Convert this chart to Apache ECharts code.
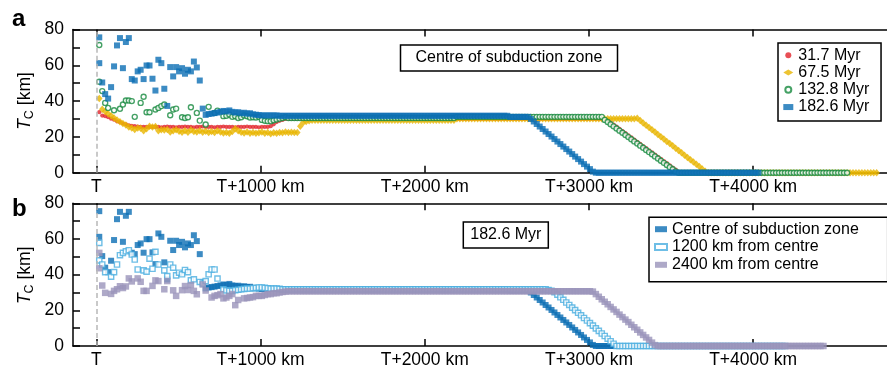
<!DOCTYPE html>
<html><head><meta charset="utf-8">
<script src="https://cdn.jsdelivr.net/npm/echarts@6/dist/echarts.min.js"></script>
<style>html,body{margin:0;padding:0;background:#fff}#c{width:887px;height:369px}</style>
</head><body><div id="c"></div>
<script>
const FONT = "'Liberation Sans', Arial, Helvetica, sans-serif";
const xTickValues = [0, 1000, 2000, 3000, 4000];
const xTickLabels = ['T', 'T+1000 km', 'T+2000 km', 'T+3000 km', 'T+4000 km'];
const yTickValues = [0, 20, 40, 60, 80];
const yMinorTickValues = [0, 10, 20, 30, 40, 50, 60, 70, 80];
// samples along the trench: first sample at 18 km, then every 18 km
const sampleStartKm = 18;
const sampleStepKm = 18;

const panelATitle = 'Centre of subduction zone';
const panelBTitle = '182.6 Myr';
const panelANames = ['31.7 Myr', '67.5 Myr', '132.8 Myr', '182.6 Myr'];
const panelBNames = ['Centre of subduction zone', '1200 km from centre', '2400 km from centre'];

// T_C (km) per sample; an inner pair = two samples at the same position; null = no visible sample
const tc317 = [
33.8,31.9,31.6,31.0,30.2,29.6,28.7,28.2,27.5,27.0,
26.5,26.2,26.0,25.8,25.6,25.6,25.6,25.6,25.6,25.6,
25.6,25.4,25.6,25.8,25.6,25.6,25.4,25.6,25.6,25.8,
25.6,25.6,25.4,25.6,25.6,25.8,25.6,25.6,25.6,25.4,
25.6,25.6,25.8,25.6,25.6,25.6,25.4,25.6,25.6,25.6,
25.8,25.6,25.6,25.6,25.4,25.6,25.6,25.6,26.0,27.0,
28.3,29.0,29.5,30.0,30.0,30.0,30.0,30.0,30.0,30.0,
30.0,30.0,30.0,30.0,30.0,30.0,30.0,30.0,30.0,30.0,
30.0,30.0,30.0,30.0,30.0,30.0,30.0,30.0,30.0,30.0,
30.0,30.0,30.0,30.0,30.0,30.0,30.0,30.0,30.0,30.0,
30.0,30.0,30.0,30.0,30.0,30.0,30.0,30.0,30.0,30.0,
30.0,30.0,30.0,30.0,30.0,30.0,30.0,30.0,30.0,30.0,
30.0,30.0,30.0,30.0,30.0,30.0,30.0,30.0,30.0,30.0,
30.0,30.0,30.0,30.0,30.0,30.0,30.0,30.0,30.0,30.0,
30.0,30.0,30.0,30.0,30.0,30.0,30.0,30.0,30.0,30.0,
30.0,30.0,30.0,30.0,30.0,30.0,30.0,30.0,30.0,30.0,
30.0,30.0,30.0,30.0,30.0,30.0,30.0,30.0,30.0,30.0,
30.0,30.0,29.3,28.1,26.9,25.7,24.5,23.3,22.1,20.9,
19.7,18.5,17.3,16.1,14.9,13.7,12.5,11.3,10.1,8.9,
7.7,6.5,5.3,4.1,2.9,1.7,0.5,0,0,0,
0,0,0,0,0,0,0,0,0,0,
0,0,0,0,0,0,0,0,0,0,
0,0,0,0,0,0,0,0,0,0,
0,0,0,0,0,0,0,0,0,0,
0,0,0,0,0,0,0,0,0,0,
0,0,0,0
];
const tc675 = [
41.5,35.5,34.2,33.0,31.8,30.5,29.5,28.4,27.5,26.6,
25.5,25.0,24.2,25.0,24.8,23.5,24.5,26.0,25.5,25.8,
23.5,24.0,23.8,24.2,22.8,23.5,24.0,23.2,22.6,23.5,
22.6,23.8,23.0,22.8,23.5,22.6,23.2,22.4,23.0,22.5,
23.5,22.8,22.2,22.5,22.0,23.0,24.5,23.5,22.6,22.2,
22.8,22.0,22.5,22.0,22.3,22.8,22.0,22.4,21.8,22.3,
22.0,22.5,22.3,22.8,22.4,22.6,22.4,22.4,26.0,28.0,
28.6,29.0,29.3,29.3,29.3,29.3,29.3,29.3,29.3,29.3,
29.3,29.3,29.3,29.3,29.3,29.3,29.3,29.3,29.3,29.3,
29.3,29.3,29.3,29.3,29.3,29.3,29.3,29.3,29.3,29.3,
29.3,29.3,29.3,29.3,29.3,29.3,29.3,29.3,29.3,29.3,
29.3,29.3,29.3,29.3,29.3,29.3,29.3,29.3,29.3,29.3,
29.3,30.2,30.2,30.2,30.2,30.2,30.2,30.2,30.2,30.2,
30.2,30.2,30.2,30.2,30.2,30.2,30.2,30.2,30.2,30.2,
30.2,30.2,30.2,30.2,30.2,30.2,30.2,30.2,30.2,30.2,
30.2,30.2,30.2,30.2,30.2,30.2,30.2,30.2,30.2,30.2,
30.2,30.2,30.2,30.2,30.2,30.2,30.2,30.2,30.2,30.2,
30.2,30.2,30.2,30.2,30.2,30.2,30.2,30.2,30.2,30.2,
30.2,30.2,30.4,29.1,27.8,26.5,25.3,24.0,22.7,21.4,
20.1,18.8,17.5,16.3,15.0,13.7,12.4,11.1,9.8,8.5,
7.3,6.0,4.7,3.4,2.1,0.8,0,0,0,0,
0,0,0,0,0,0,0,0,0,0,
0,0,0,0,0,0,0,0,0,0,
0,0,0,0,0,0,0,0,0,0,
0,0,0,0,0,0,0,0,0,0,
0,0,0,0,0,0,0,0,0,0,
0,0,0,0
];
const tc1328 = [
[71.3,50.8],45.6,39.0,36.2,null,34.9,null,35.7,38.1,40.3,
40.3,40.0,31.2,null,39.0,42.4,33.8,33.8,null,35.3,
36.2,37.2,38.1,null,32.1,35.3,35.8,null,31.0,30.6,
31.0,36.6,null,33.4,29.1,null,26.9,36.8,null,33.4,
34.7,null,31.6,31.8,32.5,31.2,31.5,30.6,31.0,32.0,
31.5,30.8,31.0,30.8,31.2,29.5,29.0,28.8,28.8,29.3,
29.7,30.2,30.6,31.0,30.6,30.6,30.6,30.6,30.6,30.6,
30.6,30.6,30.6,30.6,30.6,30.6,30.6,30.6,30.6,30.6,
30.6,30.6,30.6,30.6,30.6,30.6,30.6,30.6,30.6,30.6,
30.6,30.6,30.6,30.6,30.6,30.6,30.6,30.6,30.6,30.6,
30.6,30.6,30.6,30.6,30.6,30.6,30.6,30.6,30.6,30.6,
30.6,30.6,30.6,30.6,30.6,30.6,30.6,30.6,30.6,30.6,
30.6,31.2,31.2,31.2,31.2,31.2,31.2,31.2,31.2,31.2,
31.2,31.2,31.2,31.2,31.2,31.2,31.2,31.2,31.2,31.2,
31.2,31.2,31.2,31.2,31.2,31.2,31.2,31.2,31.2,31.2,
31.2,31.2,31.2,31.2,31.2,31.2,31.2,31.2,31.2,31.2,
31.2,31.2,31.2,31.2,31.2,31.2,31.2,31.2,31.2,31.2,
31.2,29.5,28.3,27.1,25.9,24.7,23.5,22.3,21.1,19.9,
18.7,17.5,16.3,15.1,13.9,12.7,11.5,10.3,9.1,7.9,
6.7,5.5,4.3,3.1,1.9,0.7,0,0,0,0,
0,0,0,0,0,0,0,0,0,0,
0,0,0,0,0,0,0,0,0,0,
0,0,0,0,0,0,0,0,0,0,
0,0,0,0,0,0,0,0,0,0,
0,0,0,0,0,0,0,0,0,0,
0,0,0,0
];
// 182.6 Myr, centre of subduction zone (used in both panels)
const tc1826Centre = [
[75.6,61.2],50.4,43.9,41.4,47.8,59.4,71.1,75.2,58.4,73.0,
75.2,52.3,51.5,56.6,57.5,52.3,59.9,59.9,52.5,45.9,
63.1,61.2,46.9,37.3,59.0,53.8,59.0,56.6,58.4,55.3,
57.5,56.6,62.1,58.8,51.5,35.8,32.3,32.8,33.0,33.3,
33.6,34.0,34.5,34.2,34.8,34.0,33.6,33.8,33.2,33.5,
33.0,33.2,32.6,32.4,32.2,32.0,32.0,32.0,32.0,32.0,
32.0,31.8,31.8,31.8,31.8,31.8,31.8,31.8,31.8,31.8,
31.8,31.8,31.8,31.8,31.8,31.8,31.8,31.8,31.8,31.8,
31.8,31.8,31.8,31.8,31.8,31.8,31.8,31.8,31.8,31.8,
31.8,31.8,31.8,31.8,31.8,31.8,31.8,31.8,31.8,31.8,
31.8,31.8,31.8,31.8,31.8,31.8,31.8,31.8,31.8,31.8,
31.8,31.8,31.8,31.8,31.8,31.8,31.8,31.8,31.8,31.8,
31.8,31.8,31.8,31.8,31.8,31.8,31.8,31.8,31.8,31.8,
31.8,31.8,31.8,31.8,31.8,31.8,31.8,31.8,31.8,31.2,
31.2,31.2,31.2,31.2,31.2,31.2,30.0,28.6,27.2,25.8,
24.4,23.0,21.6,20.2,18.8,17.4,16.0,14.6,13.2,11.8,
10.4,9.0,7.6,6.2,4.8,3.4,2.0,0.6,0,0,
0,0,0,0,0,0,0,0,0,0,
0,0,0,0,0,0,0,0,0,0,
0,0,0,0,0,0,0,0,0,0,
0,0,0,0,0,0,0,0,0,0,
0,0,0,0,0,0,0,0,0,0,
0,0,0,0
];
const tc1826At1200 = [
[57.8,48.0],45.7,41.4,null,38.9,41.4,45.7,50.9,52.2,53.1,
53.7,51.3,48.5,42.9,null,42.4,41.7,49.0,43.3,52.8,
45.7,null,42.4,39.2,45.7,43.9,39.6,41.1,40.2,42.6,
41.4,36.8,37.4,null,35.9,35.0,36.4,40.2,42.9,42.9,
37.8,null,31.8,31.2,30.9,30.9,31.3,31.5,31.8,32.0,
32.2,32.2,32.4,32.6,32.8,32.8,32.6,32.4,32.2,32.2,
32.2,32.0,31.8,31.8,31.8,31.8,31.8,31.8,31.8,31.8,
31.8,31.8,31.8,31.8,31.8,31.8,31.8,31.8,31.8,31.8,
31.8,31.8,31.8,31.8,31.8,31.8,31.8,31.8,31.8,31.8,
31.8,31.8,31.8,31.8,31.8,31.8,31.8,31.8,31.8,31.8,
31.8,31.8,31.8,31.8,31.8,31.8,31.8,31.8,31.8,31.8,
31.8,31.8,31.8,31.8,31.8,31.8,31.8,31.8,31.8,31.8,
31.8,31.8,31.8,31.8,31.8,31.8,31.8,31.8,31.8,31.8,
31.8,31.8,31.8,31.8,31.8,31.8,31.8,31.8,31.8,31.8,
31.8,31.8,31.8,31.8,31.8,31.8,31.8,31.8,31.8,31.8,
31.8,31.8,31.4,31.0,30.2,28.8,27.3,25.9,24.4,23.0,
21.5,20.1,18.6,17.2,15.7,14.3,12.8,11.4,9.9,8.5,
7.0,5.6,4.1,2.7,1.3,0,0,0,0,0,
0,0,0,0,0,0,0,0,0,0,
0,0,0,0,0,0,0,0,0,0,
0,0,0,0,0,0,0,0,0,0,
0,0,0,0,0,0,0,0,0,0,
0,0,0,0,0,0,0,0,0,0,
0,0,0
];
const tc1826At2400 = [
[52.2,43.6],33.9,29.8,null,29.2,30.9,31.8,33.5,32.5,33.4,
37.9,36.2,null,37.9,36.0,30.9,30.9,null,33.7,36.8,
36.4,null,31.8,36.4,null,31.2,28.1,null,31.3,33.6,
31.4,34.2,30.9,29.0,null,34.5,31.1,null,27.2,28.1,
28.5,29.1,26.7,27.2,28.1,29.1,22.9,25.8,null,26.7,
26.9,27.2,27.4,28.1,28.1,28.1,28.6,29.1,29.1,29.6,
29.6,30.0,30.3,30.5,30.7,30.7,30.7,30.7,30.7,30.7,
30.7,30.7,30.7,30.7,30.7,30.7,30.7,30.7,30.7,30.7,
30.7,30.7,30.7,30.7,30.7,30.7,30.7,30.7,30.7,30.7,
30.7,30.7,30.7,30.7,30.7,30.7,30.7,30.7,30.7,30.7,
30.7,30.7,30.7,30.7,30.7,30.7,30.7,30.7,30.7,30.7,
30.7,30.7,30.7,30.7,30.7,30.7,30.7,30.7,30.7,30.7,
30.7,30.7,30.7,30.7,30.7,30.7,30.7,30.7,30.7,30.7,
30.7,30.7,30.7,30.7,30.7,30.7,30.7,30.7,30.7,30.7,
30.7,30.7,30.7,30.7,30.7,30.7,30.7,30.7,30.7,30.7,
30.7,30.7,30.7,30.7,30.7,30.7,30.7,30.7,30.7,30.7,
30.7,30.7,30.7,30.7,30.7,30.7,30.7,30.5,29.1,27.6,
26.2,24.8,23.4,21.9,20.5,19.1,17.6,16.2,14.8,13.4,
11.9,10.5,9.1,7.6,6.2,4.8,3.4,1.9,0.5,0,
0,0,0,0,0,0,0,0,0,0,
0,0,0,0,0,0,0,0,0,0,
0,0,0,0,0,0,0,0,0,0,
0,0,0,0,0,0,0,0,0,0,
0,0,0,0,0,0,0,0,0,0,
0,0,0,0,0,0
];

const C_RED = '#e2232a', C_GOLD = '#e9b500', C_GREEN = '#178a3e', C_BLUE = '#0b6eb4',
      C_LBLUE = '#4aaee0', C_PURPLE = '#9a93ba', C_DASH = '#b8b8b8';

function toPoints(values) {
  const pts = [];
  values.forEach((v, i) => {
    if (v === null) return;
    const km = sampleStartKm + i * sampleStepKm;
    (Array.isArray(v) ? v : [v]).forEach(y => pts.push([km, y]));
  });
  return pts;
}

const chart = echarts.init(document.getElementById('c'), null, {renderer: 'canvas'});
const axisLineStyle = {color: '#000', width: 1.5};
const X_MIN = -142, X_MAX = 4815;
function xAxes(grid, showLabels) {
  const base = {
    gridIndex: grid, type: 'value', min: X_MIN, max: X_MAX,
    splitLine: {show: false},
    axisLine: {show: true, onZero: false, lineStyle: axisLineStyle},
    axisTick: {show: true, inside: true, length: 7, customValues: xTickValues, lineStyle: axisLineStyle}
  };
  return [
    Object.assign({}, base, {position: 'bottom', axisLabel: {
      show: showLabels, customValues: xTickValues,
      formatter: v => xTickLabels[xTickValues.indexOf(v)],
      fontSize: 17.5, fontFamily: FONT, color: '#000', margin: 5}}),
    Object.assign({}, base, {position: 'top', axisLabel: {show: false}})
  ];
}
function yAxis(grid) {
  return {
    gridIndex: grid, type: 'value', min: 0, max: 80, interval: 10, position: 'left',
    splitLine: {show: false},
    axisLine: {show: true, onZero: false, lineStyle: axisLineStyle},
    axisTick: {show: true, inside: true, length: 7, customValues: yMinorTickValues, lineStyle: axisLineStyle},
    axisLabel: {customValues: yTickValues, fontSize: 17.5, fontFamily: FONT, color: '#000', margin: 9}
  };
}
const dashMark = {
  silent: true, symbol: ['none', 'none'], label: {show: false}, animation: false,
  emphasis: {disabled: true},
  lineStyle: {color: C_DASH, width: 1.5, type: [5, 3], opacity: 1},
  data: [{xAxis: 0}]
};
function scat(name, data, xi, yi, symbol, size, itemStyle, withDash) {
  const s = {type: 'scatter', name, data: toPoints(data), xAxisIndex: xi, yAxisIndex: yi,
    symbol, symbolSize: size, itemStyle, clip: false, silent: true};
  if (withDash) s.markLine = dashMark;
  return s;
}
const openStyle = c => ({color: '#fff', borderColor: c, borderWidth: 1.4});

const yName = {
  text: '{i|T}{s|C}{n| [km]}',
  rich: {
    i: {fontStyle: 'italic', fontSize: 17.5, fontFamily: FONT, fill: '#000', lineHeight: 22},
    s: {fontSize: 12.5, fontFamily: FONT, fill: '#000', verticalAlign: 'bottom', lineHeight: 14},
    n: {fontSize: 17.5, fontFamily: FONT, fill: '#000', lineHeight: 22}
  },
  align: 'center', verticalAlign: 'middle'
};

chart.setOption({
  animation: false,
  backgroundColor: '#fff',
  textStyle: {fontFamily: FONT},
  grid: [
    {left: 73, top: 29.5, width: 814, height: 143.2},
    {left: 73, top: 203.3, width: 814, height: 144}
  ],
  xAxis: [...xAxes(0, true), ...xAxes(1, true)],
  yAxis: [yAxis(0), yAxis(1)],
  title: [
    {text: panelATitle, left: 400, top: 45, padding: [4, 15.5, 4, 15.5], borderColor: '#000', borderWidth: 1.5,
     textStyle: {fontSize: 16, fontWeight: 'normal', color: '#000', fontFamily: FONT, lineHeight: 18}},
    {text: panelBTitle, left: 463.3, top: 221.7, padding: [4.3, 7, 4.3, 7], borderColor: '#000', borderWidth: 1.5,
     textStyle: {fontSize: 16, fontWeight: 'normal', color: '#000', fontFamily: FONT, lineHeight: 18}}
  ],
  legend: [
    {data: panelANames, orient: 'vertical', left: 778, top: 43, padding: [3.5, 11.6, 5.3, 5.3],
     itemWidth: 10, itemHeight: 6, itemGap: 0, selectedMode: false,
     borderColor: '#000', borderWidth: 1.5, backgroundColor: '#fff',
     textStyle: {fontSize: 16, color: '#000', fontFamily: FONT, lineHeight: 17.3}},
    {data: panelBNames, orient: 'vertical', left: 649, top: 217.3, padding: [3, 28.9, 8, 5],
     itemWidth: 12, itemHeight: 6, itemGap: 0, selectedMode: false,
     borderColor: '#000', borderWidth: 1.5, backgroundColor: '#fff',
     textStyle: {fontSize: 16, color: '#000', fontFamily: FONT, lineHeight: 17.8}}
  ],
  graphic: [
    {type: 'text', x: 12, y: 19.7, style: {text: 'a', font: "bold 24px " + FONT, fill: '#000', verticalAlign: 'middle'}},
    {type: 'text', x: 12, y: 209.7, style: {text: 'b', font: "bold 24px " + FONT, fill: '#000', verticalAlign: 'middle'}},
    {type: 'text', x: 25, y: 101, rotation: Math.PI / 2, style: yName},
    {type: 'text', x: 25, y: 275.3, rotation: Math.PI / 2, style: yName}
  ],
  series: [
    scat(panelANames[0], tc317, 0, 0, 'circle', 4.2, {color: C_RED}, true),
    scat(panelANames[1], tc675, 0, 0, 'diamond', [6.5, 7.5], {color: C_GOLD}),
    scat(panelANames[2], tc1328, 0, 0, 'circle', 5, openStyle(C_GREEN)),
    scat(panelANames[3], tc1826Centre, 0, 0, 'rect', 6, {color: C_BLUE}),
    scat(panelBNames[0], tc1826Centre, 2, 1, 'rect', 6, {color: C_BLUE}, true),
    scat(panelBNames[1], tc1826At1200, 2, 1, 'rect', 5.2, openStyle(C_LBLUE)),
    scat(panelBNames[2], tc1826At2400, 2, 1, 'rect', 6.5, {color: C_PURPLE})
  ]
});
</script></body></html>
